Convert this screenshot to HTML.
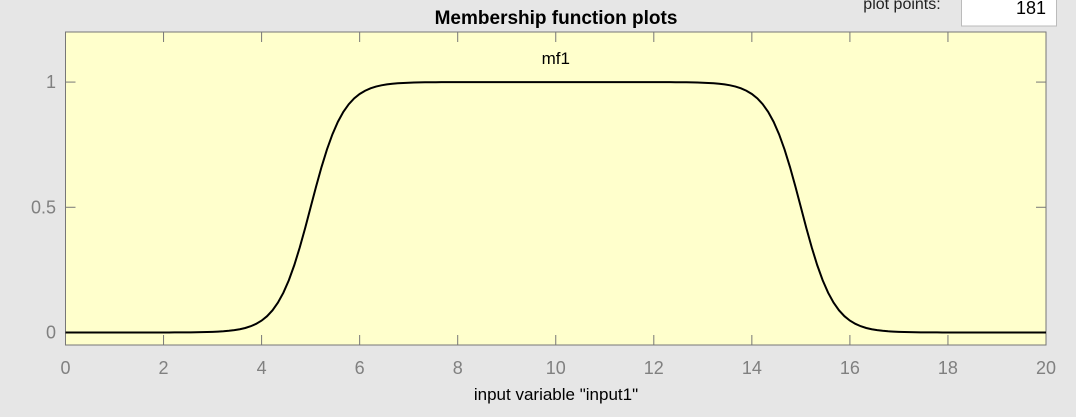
<!DOCTYPE html>
<html><head><meta charset="utf-8"><style>
body{margin:0;width:1076px;height:412px;background:#e6e6e6;overflow:hidden;font-family:"Liberation Sans",sans-serif}
</style></head><body>
<svg width="1076" height="412">
<text x="556" y="24" text-anchor="middle" font-size="19" font-weight="bold" fill="#000">Membership function plots</text>
<text x="902" y="9" text-anchor="middle" font-size="16" fill="#222">plot points:</text>
<rect x="961.5" y="-5" width="95" height="31" fill="#fff" stroke="#bbb"/>
<text x="1046" y="14" text-anchor="end" font-size="18" fill="#000">181</text>
<g id="plot"></g>
<text x="556" y="400" text-anchor="middle" font-size="17" fill="#000">input variable "input1"</text>
</svg>
<script>
const xTicks=[0,2,4,6,8,10,12,14,16,18,20];
const yTicks=[0,0.5,1];
const yTickLabels=["0","0.5","1"];
const mfParams=[3,5,-3,15]; // psigmf params
const mfLabel="mf1";
const nPoints=181;
const L=65.5,R=1046,T=32,B=345,xmin=0,xmax=20,ymin=-0.05,ymax=1.2;
const sx=v=>L+(v-xmin)/(xmax-xmin)*(R-L);
const sy=v=>B-(v-ymin)/(ymax-ymin)*(B-T);
const ns="http://www.w3.org/2000/svg";
const g=document.getElementById('plot');
function mk(t,a){const e=document.createElementNS(ns,t);for(const k in a)e.setAttribute(k,a[k]);g.appendChild(e);return e;}
const bg=mk('rect',{x:L,y:T,width:R-L,height:B-T,fill:'#ffffcc',stroke:'#777'});


xTicks.forEach(v=>{const x=sx(v);
 const t1=mk('line',{x1:x,x2:x,y1:B,y2:B-10,stroke:'#777'});
 
 
 const t2=mk('line',{x1:x,x2:x,y1:T,y2:T+10,stroke:'#777'});
 
 
 const tx=mk('text',{x:x,y:374,'text-anchor':'middle','font-size':18,fill:'#808080'});tx.textContent=v;
 
 
});
yTicks.forEach((v,i)=>{const y=sy(v);
 const t1=mk('line',{x1:L,x2:L+10,y1:y,y2:y,stroke:'#777'});
 
 
 const t2=mk('line',{x1:R,x2:R-10,y1:y,y2:y,stroke:'#777'});
 
 
 const tx=mk('text',{x:56,y:y+6,'text-anchor':'end','font-size':18,fill:'#808080'});tx.textContent=yTickLabels[i];
 
 
});
const [a1,c1,a2,c2]=mfParams;
const sig=(x,a,c)=>1/(1+Math.exp(-a*(x-c)));
let d='';let peak=-1;
for(let i=0;i<nPoints;i++){const x=xmin+(xmax-xmin)*i/(nPoints-1);const y=sig(x,a1,c1)*sig(x,a2,c2);
 if(y>peak){peak=y;}
 d+=(i?'L':'M')+sx(x).toFixed(2)+','+sy(y).toFixed(2);}
const p=mk('path',{d:d,fill:'none',stroke:'#000','stroke-width':2});


const lb=mk('text',{x:sx((c1+c2)/2),y:sy(peak)-18,'text-anchor':'middle','font-size':17,fill:'#000'});lb.textContent=mfLabel;


</script>
</body></html>
